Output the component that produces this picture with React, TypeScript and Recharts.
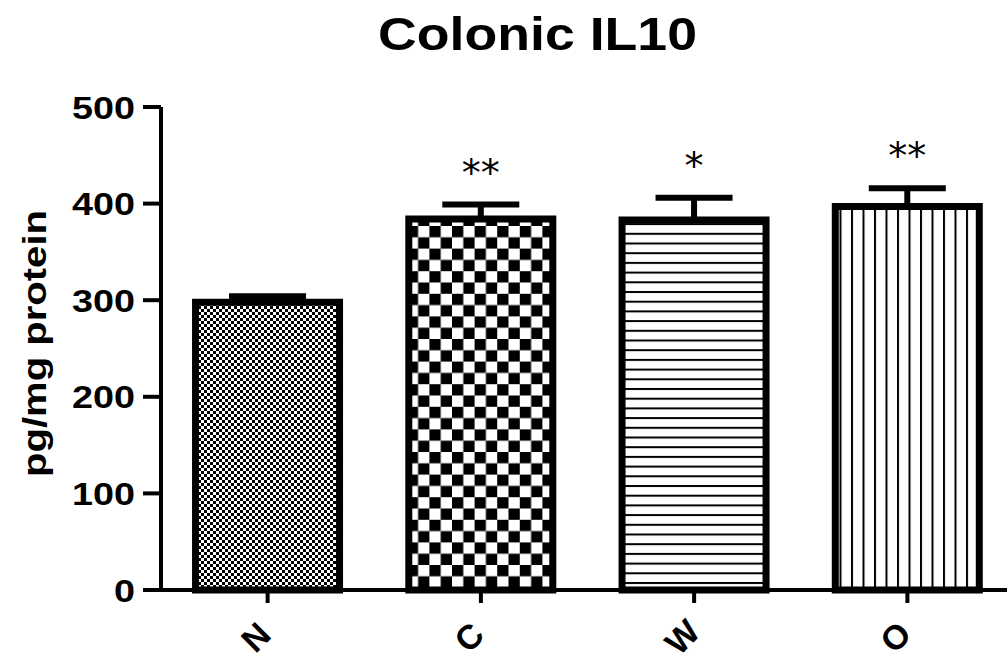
import { BarChart, Bar, XAxis, YAxis, Cell, ErrorBar, LabelList } from "recharts";

const groups = ["N", "C", "W", "O"];
const means = [298, 384, 383, 397];
const errUp = [6, 15, 23, 19];
const stars = ["", "**", "*", "**"];
const yTicks = [0, 100, 200, 300, 400, 500];
const patterns = ["patN", "patC", "patW", "patO"];

const data = groups.map((g, i) => ({
  group: g,
  value: means[i],
  err: [0, errUp[i]],
  sig: stars[i],
}));

const YTick = (props: any) => {
  const { x, y, payload } = props;
  const s = String(payload.value);
  return (
    <text
      x={x}
      y={y + 11.5}
      textAnchor="end"
      fontFamily="Liberation Sans, Arial, sans-serif"
      fontWeight="bold"
      fontSize={32}
      fill="#000"
      textLength={s.length * 21}
      lengthAdjust="spacingAndGlyphs"
    >
      {s}
    </text>
  );
};

const XTick = (props: any) => {
  const { x, y, payload } = props;
  return (
    <text
      transform={`translate(${x - 12}, ${y + 32}) rotate(-45)`}
      textAnchor="middle"
      dominantBaseline="central"
      fontFamily="Liberation Sans, Arial, sans-serif"
      fontWeight="bold"
      fontSize={34}
      fill="#000"
    >
      {payload.value}
    </text>
  );
};

const StarLabel = (props: any) => {
  const { x, y, width, height, index, value } = props;
  if (!value) return null;
  const pxPerUnit = height / means[index];
  const top = y - errUp[index] * pxPerUnit;
  return (
    <text
      x={x + width / 2}
      y={top - 19}
      textAnchor="middle"
      fontFamily="DejaVu Sans, sans-serif"
      fontSize={38}
      fill="#000"
      textLength={value.length * 19}
      lengthAdjust="spacingAndGlyphs"
    >
      {value}
    </text>
  );
};

const YLabel = () => (
  <text
    transform="translate(46, 343.5) rotate(-90)"
    textAnchor="middle"
    fontFamily="Liberation Sans, Arial, sans-serif"
    fontWeight="bold"
    fontSize={34}
    fill="#000"
    textLength={267}
    lengthAdjust="spacingAndGlyphs"
  >
    pg/mg protein
  </text>
);

export default function App() {
  return (
    <div
      style={{
        position: "fixed",
        left: 0,
        top: 0,
        width: 1007,
        height: 657,
        overflow: "hidden",
        background: "#fff",
      }}
    >
      <svg width={1007} height={60} style={{ position: "absolute", left: 0, top: 0 }}>
        <text
          x={537.5}
          y={50}
          textAnchor="middle"
          fontFamily="Liberation Sans, Arial, sans-serif"
          fontWeight="bold"
          fontSize={46}
          fill="#000"
          textLength={319}
          lengthAdjust="spacingAndGlyphs"
        >
          Colonic IL10
        </text>
      </svg>
      <div style={{ position: "absolute", left: 0, top: 0 }}>
        <BarChart
          width={1020}
          height={657}
          data={data}
          margin={{ top: 107, right: 6, bottom: 0, left: 0 }}
          barCategoryGap="16.2%"
        >
          <defs>
            <pattern id="patN" width={6} height={6} patternUnits="userSpaceOnUse">
              <rect width={6} height={6} fill="#fff" />
              <rect x={0} y={0} width={3} height={3} fill="#000" />
              <rect x={3} y={3} width={3} height={3} fill="#000" />
            </pattern>
            <pattern id="patC" width={22.6} height={22.6} patternUnits="userSpaceOnUse">
              <rect width={22.6} height={22.6} fill="#fff" />
              <rect x={0} y={0} width={11.3} height={11.3} fill="#000" />
              <rect x={11.3} y={11.3} width={11.3} height={11.3} fill="#000" />
            </pattern>
            <pattern id="patW" width={20} height={9.7} patternUnits="userSpaceOnUse">
              <rect width={20} height={9.7} fill="#fff" />
              <rect x={0} y={0} width={20} height={2} fill="#000" />
            </pattern>
            <pattern id="patO" width={11.5} height={20} patternUnits="userSpaceOnUse">
              <rect width={11.5} height={20} fill="#fff" />
              <rect x={0} y={0} width={2} height={20} fill="#000" />
            </pattern>
          </defs>
          <XAxis
            dataKey="group"
            height={67}
            axisLine={{ stroke: "#000", strokeWidth: 4 }}
            tickLine={{ stroke: "#000", strokeWidth: 4 }}
            tickSize={13}
            tickMargin={2}
            tick={<XTick />}
            interval={0}
          />
          <YAxis
            width={161}
            domain={[0, 500]}
            ticks={yTicks}
            axisLine={{ stroke: "#000", strokeWidth: 4 }}
            tickLine={{ stroke: "#000", strokeWidth: 4 }}
            tickSize={18}
            tickMargin={8}
            tick={<YTick />}
            label={<YLabel />}
          />
          <Bar
            dataKey="value"
            stroke="#000"
            strokeWidth={7}
            isAnimationActive={false}
          >
            {data.map((d, i) => (
              <Cell key={d.group} fill={`url(#${patterns[i]})`} />
            ))}
            <ErrorBar
              dataKey="err"
              direction="y"
              width={38.5}
              stroke="#000"
              strokeWidth={6}
              isAnimationActive={false}
            />
            <LabelList dataKey="sig" content={<StarLabel />} />
          </Bar>
        </BarChart>
      </div>
    </div>
  );
}
